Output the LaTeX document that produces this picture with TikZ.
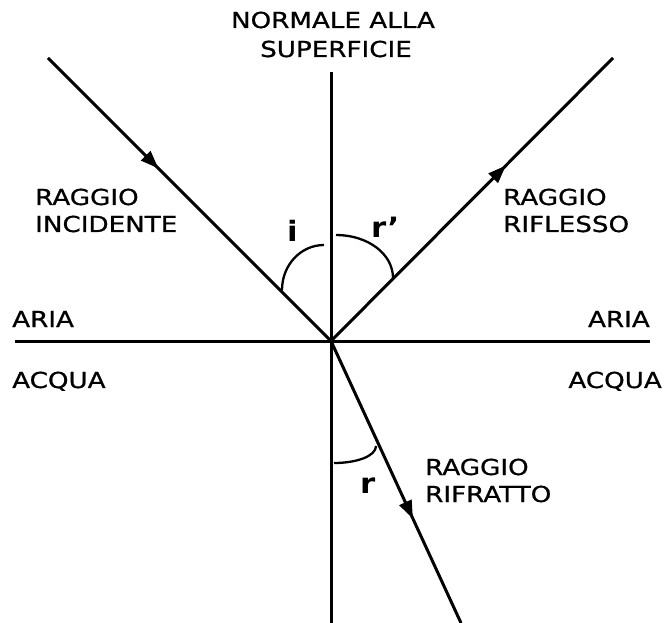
\documentclass[tikz,border=0pt]{standalone}
\usepackage{fontspec}
\usetikzlibrary{arrows.meta,decorations.markings}
\newfontfamily\lab[FakeStretch=1.19,FakeBold=0.8]{DejaVu Sans}
\newfontfamily\angfont[FakeStretch=1.1]{DejaVu Sans Bold}
\begin{document}
\begin{tikzpicture}[x=1pt,y=-1pt,
  ray/.style={line width=3pt},
  angarc/.style={line width=2.3pt},
  txt/.style={inner sep=0pt,font=\lab\fontsize{22}{26}\selectfont},
  angtxt/.style={inner sep=0pt,font=\angfont\fontsize{28}{32}\selectfont},
  arrowat/.style={postaction={decorate},decoration={markings,
     mark=at position #1 with {\arrow{Triangle[length=18pt,width=13pt]}}}}]
\useasboundingbox (0,0) rectangle (665,623);
% points
\coordinate (O) at (331,341);
\coordinate (A) at (48,58);
\coordinate (B) at (613,58);
\coordinate (C) at (461,623);
\coordinate (Ntop) at (331,72);
\coordinate (Nbot) at (331,623);
\coordinate (Sl) at (15,341);
\coordinate (Sr) at (650,341);
% normal and surface
\draw[ray] (Ntop) -- (Nbot);
\draw[ray] (Sl) -- (Sr);
% rays
\draw[ray,arrowat=0.39] (A) -- (O);
\draw[ray,arrowat=0.62] (O) -- (B);
\draw[ray,arrowat=0.63] (O) -- (C);
% angle arcs
\draw[angarc] (282,290) .. controls (282,265) and (300.8,245) .. (324,245);
\draw[angarc] (336,235) .. controls (367.5,235) and (393,253.7) .. (393,278);
\draw[angarc] (334,463) .. controls (357,463) and (376,456) .. (376,446);
% labels
\node[txt,anchor=base] (n1) at (333,28) {NORMALE ALLA};
\node[txt,anchor=base] (n2) at (336,57) {SUPERFICIE};
\node[txt,anchor=base west] (inc1) at (35,205) {RAGGIO};
\node[txt,anchor=base west] (inc2) at (35,232) {INCIDENTE};
\node[txt,anchor=base west] (rif1) at (503,205) {RAGGIO};
\node[txt,anchor=base west] (rif2) at (503,232) {RIFLESSO};
\node[txt,anchor=base west] (ariaL) at (12,327) {ARIA};
\node[txt,anchor=base west] (acquaL) at (12,388) {ACQUA};
\node[txt,anchor=base east] (ariaR) at (650,327) {ARIA};
\node[txt,anchor=base east] (acquaR) at (662,388) {ACQUA};
\node[txt,anchor=base west] (rfr1) at (425,475) {RAGGIO};
\node[txt,anchor=base west] (rfr2) at (425,502) {RIFRATTO};
\node[angtxt,anchor=base] (li) at (292.5,242) {i};
\node[angtxt,anchor=base west] (lrp) at (371,238) {r’};
\node[angtxt,anchor=base west] (lr) at (360,493) {r};
\end{tikzpicture}
\end{document}
